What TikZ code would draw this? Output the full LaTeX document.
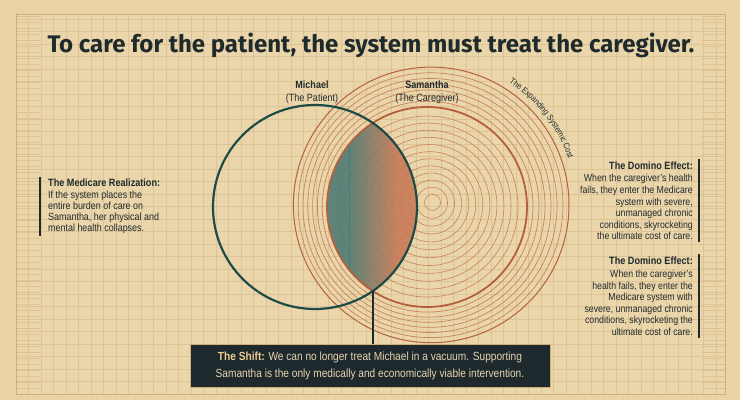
\documentclass[tikz,border=0pt]{standalone}
\usepackage{fontspec}
\setmainfont{Liberation Sans}[FakeStretch=0.86]
\newfontfamily\titlefont{Fira Sans}
\usetikzlibrary{decorations.text}
\definecolor{bg}{HTML}{E9D3A6}
\definecolor{panel}{HTML}{EBD6AB}
\definecolor{gridc}{HTML}{DDC497}
\definecolor{frame}{HTML}{CFAE78}
\definecolor{ink}{HTML}{1F2A2C}
\definecolor{tealc}{HTML}{1D4C47}
\definecolor{rust}{HTML}{B65F3D}
\definecolor{ringc}{HTML}{C8835F}
\definecolor{lensteal}{HTML}{4F7A73}
\definecolor{lensrust}{HTML}{C97A57}
\definecolor{boxc}{HTML}{1E292D}
\definecolor{boxtext}{HTML}{E6D4AF}
\definecolor{boxhead}{HTML}{EBCB8E}
\begin{document}
\begin{tikzpicture}[x=1pt,y=1pt,
  gridline/.style={gridc, line width=0.5},
  ring/.style={ringc, line width=0.6},
  lbl/.style={font=\fontsize{10.5}{13}\selectfont, text=ink, align=center, inner sep=0},
  blk/.style={font=\fontsize{10.2}{11.6}\selectfont, text=ink, inner sep=0},
  bar/.style={ink, line width=2},
  shiftbox/.style={fill=boxc, draw=frame, line width=0.4, minimum width=360, minimum height=43, inner sep=0, align=center, text=boxtext, font=\fontsize{11.8}{17}\selectfont},
  titlestyle/.style={font=\titlefont\bfseries\fontsize{24}{26}\selectfont, text=ink, inner sep=0}
]
\fill[bg] (0,0) rectangle (740,400);
\useasboundingbox (0,0) rectangle (740,400);
\fill[panel] (16,6) rectangle (725,385);
\begin{scope}
  \clip (16,6) rectangle (725,385);
  \foreach \x in {28.5,41,...,725} \draw[gridline] (\x,6) -- (\x,385);
  \foreach \y in {18.5,31,...,385} \draw[gridline] (16,\y) -- (725,\y);
  \foreach \y in {12,18,...,384} {\draw[gridline] (16,\y) -- (40,\y); \draw[gridline] (701,\y) -- (725,\y);}
\end{scope}
\draw[frame, line width=1] (16,6) rectangle (725,385);

\node[titlestyle] (title) at (371,355) {To care for the patient, the system must treat the caregiver.};

\coordinate (mc) at (315,193);
\coordinate (sc) at (427,193);
\coordinate (rc) at (431,195);

% concentric rings
\foreach \r in {8,15.5,...,94} \draw[ring] ({433-0.06*\r},{198-0.05*\r}) circle[radius=\r];
\foreach \k in {1,...,6} \draw[ring, line width=0.7] ({427+0.6*\k},{193+0.3*\k}) circle[radius={100+5.4*\k}];
\draw[rust, line width=1] ({427+0.6*7},{193+0.3*7}) circle[radius={100+5.4*7}];

% lens
\begin{scope}[opacity=0.9]
  \clip (mc) circle[radius=102];
  \clip (sc) circle[radius=100];
  \fill[lensteal] (320,90) rectangle (350,300);
  \shade[left color=lensteal, right color=lensrust] (349.5,90) rectangle (398,300);
  \fill[lensrust] (397.5,90) rectangle (425,300);
\end{scope}

\draw[rust, line width=1.8] (sc) circle[radius=100];
\draw[tealc, line width=2.2] (mc) circle[radius=102];

\path[decorate, decoration={text along path, text align=center,
  text={|\fontsize{8.5}{10}\selectfont\color{ink}|The Expanding Systemic Cost}}]
  (rc) ++(64:145) arc[start angle=64, end angle=12, radius=145];

\node[lbl] (michael) at (312,307.5) {\textbf{Michael}\\(The Patient)};
\node[lbl] (samantha) at (427,307.5) {\textbf{Samantha}\\(The Caregiver)};

\node[blk, anchor=north west, align=left, font=\fontsize{10.4}{10.9}\selectfont] (left) at (48,221) {{\bfseries\fontsize{10.6}{15}\selectfont The Medicare Realization:}\\[1pt]
If the system places the\\entire burden of care on\\Samantha, her physical and\\mental health collapses.};
\draw[bar] ([xshift=-8,yshift=2]left.north west) -- ([xshift=-8,yshift=-2]left.south west);

\node[blk, anchor=north east, align=right] (dom1) at (693,238.5) {{\bfseries\fontsize{10.6}{15}\selectfont The Domino Effect:}\\[1pt]
When the caregiver's health\\fails, they enter the Medicare\\system with severe,\\unmanaged chronic\\conditions, skyrocketing\\the ultimate cost of care.};
\draw[bar] ([xshift=6,yshift=3]dom1.north east) -- ([xshift=6,yshift=-2]dom1.south east);

\node[blk, anchor=north east, align=right] (dom2) at (693,143) {{\bfseries\fontsize{10.6}{15}\selectfont The Domino Effect:}\\[1pt]
When the caregiver's\\health fails, they enter the\\Medicare system with\\severe, unmanaged chronic\\conditions, skyrocketing the\\ultimate cost of care.};
\draw[bar] ([xshift=6,yshift=3]dom2.north east) -- ([xshift=6,yshift=-2]dom2.south east);

\node[shiftbox] (shift) at (370,34) {{\bfseries\color{boxhead}The Shift:} We can no longer treat Michael in a vacuum. Supporting\\Samantha is the only medically and economically viable intervention.};

\coordinate (lensbot) at (372.8,109);
\draw[ink, line width=1.6] (lensbot) -- (lensbot |- shift.north);
\end{tikzpicture}
\end{document}
